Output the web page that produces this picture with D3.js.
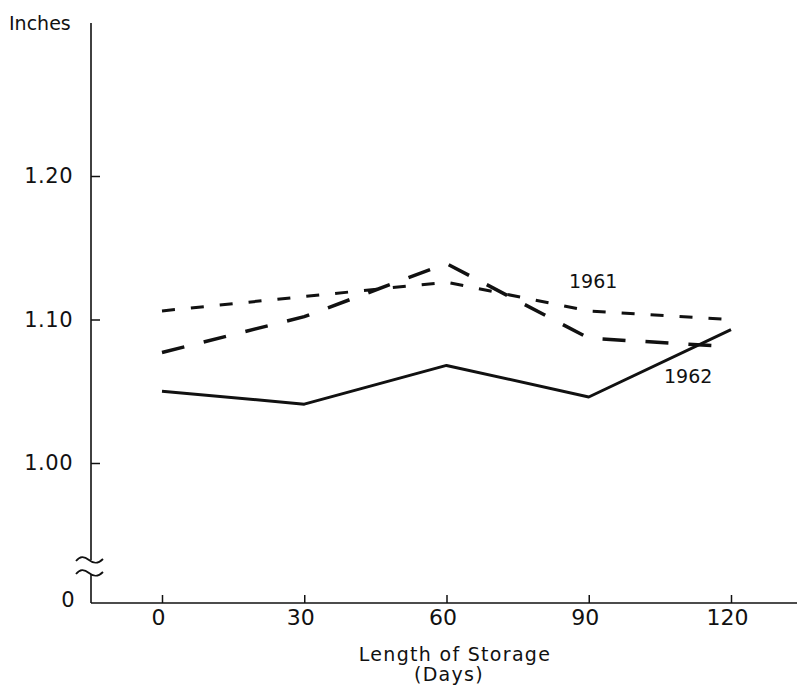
<!DOCTYPE html>
<html>
<head>
<meta charset="utf-8">
<script src="https://cdn.jsdelivr.net/npm/d3@7"></script>
<style>
  html, body { margin: 0; padding: 0; background: #fff; }
  svg { display: block; }
  text { font-family: "DejaVu Sans", Lato, sans-serif; fill: #111; }
</style>
</head>
<body>
<svg id="chart" width="797" height="687"></svg>
<script>
// ---- data ----
const days = [0, 30, 60, 90, 120];
const solidSeries = [1.050, 1.041, 1.068, 1.046, 1.093];
const series1961 = [1.106, 1.116, 1.126, 1.106, 1.100];
const series1962 = [1.077, 1.102, 1.139, 1.087, 1.081];
const yTicks = [1.00, 1.10, 1.20];
const yTickLabels = ["1.00", "1.10", "1.20"];
const xTickLabels = ["0", "30", "60", "90", "120"];
const seriesLabels = ["1961", "1962"];

const svg = d3.select("#chart");
const x = d3.scaleLinear().domain([0, 120]).range([162, 731]);
const y = d3.scaleLinear().domain([1.00, 1.20]).range([463, 176]);

const axisX = 91, axisY = 603;
const ink = "#111";

// y axis line with break
svg.append("line").attr("x1", axisX).attr("x2", axisX).attr("y1", 23).attr("y2", 560)
  .attr("stroke", ink).attr("stroke-width", 1.6);
svg.append("line").attr("x1", axisX).attr("x2", axisX).attr("y1", 574).attr("y2", axisY)
  .attr("stroke", ink).attr("stroke-width", 1.6);
// break symbols
const wave = (cy) => `M76,${cy+1} C80,${cy-4} 84,${cy-4} 89,${cy} S98,${cy+4} 103,${cy-1}`;
[560, 573].forEach(cy => svg.append("path").attr("d", wave(cy))
  .attr("fill", "none").attr("stroke", ink).attr("stroke-width", 1.8));

// x axis line
svg.append("line").attr("x1", axisX).attr("x2", 797).attr("y1", axisY).attr("y2", axisY)
  .attr("stroke", ink).attr("stroke-width", 1.6);

// y axis ticks
const yAxis = d3.axisLeft(y).tickValues(yTicks)
  .tickFormat((d, i) => yTickLabels[i]).tickSize(-9).tickPadding(18);
const gy = svg.append("g").attr("transform", `translate(${axisX},0)`).call(yAxis);
gy.select(".domain").remove();
gy.selectAll(".tick line").attr("stroke", ink).attr("stroke-width", 1.5);
gy.selectAll(".tick text").attr("font-size", 21).attr("letter-spacing", 0.5)
  .attr("font-family", "'DejaVu Sans', Lato, sans-serif").attr("fill", ink);

// y "0" label
svg.append("text").attr("x", 68).attr("y", 607).attr("text-anchor", "middle")
  .attr("font-size", 21).text("0");

// x axis ticks
const xAxis = d3.axisBottom(x).tickValues(days)
  .tickFormat((d, i) => xTickLabels[i]).tickSize(-8).tickPadding(6);
const gx = svg.append("g").attr("transform", `translate(0,${axisY})`).call(xAxis);
gx.select(".domain").remove();
gx.selectAll(".tick line").attr("stroke", ink).attr("stroke-width", 1.5);
gx.selectAll(".tick text").attr("font-size", 22).attr("dx", -4)
  .attr("font-family", "'DejaVu Sans', Lato, sans-serif").attr("fill", ink);

// axis titles
svg.append("text").attr("x", 9).attr("y", 30).attr("font-size", 19).text("Inches");
svg.append("text").attr("x", 455).attr("y", 661).attr("text-anchor", "middle")
  .attr("font-size", 19).attr("letter-spacing", 1.3).text("Length of Storage");
svg.append("text").attr("x", 449).attr("y", 681).attr("text-anchor", "middle")
  .attr("font-size", 19).attr("letter-spacing", 1.3).text("(Days)");

// lines
const line = d3.line().x((d, i) => x(days[i])).y(d => y(d));
svg.append("path").datum(solidSeries).attr("d", line)
  .attr("fill", "none").attr("stroke", ink).attr("stroke-width", 3).attr("stroke-linejoin", "round");
svg.append("path").datum(series1961).attr("d", line)
  .attr("fill", "none").attr("stroke", ink).attr("stroke-width", 3).attr("stroke-dasharray", "13,16");
svg.append("path").datum(series1962).attr("d", line)
  .attr("fill", "none").attr("stroke", ink).attr("stroke-width", 3.5).attr("stroke-dasharray", "23,20");

// series labels
svg.append("text").attr("x", 569).attr("y", 288).attr("font-size", 19).text(seriesLabels[0]);
svg.append("text").attr("x", 664).attr("y", 383).attr("font-size", 19).text(seriesLabels[1]);
</script>
</body>
</html>
